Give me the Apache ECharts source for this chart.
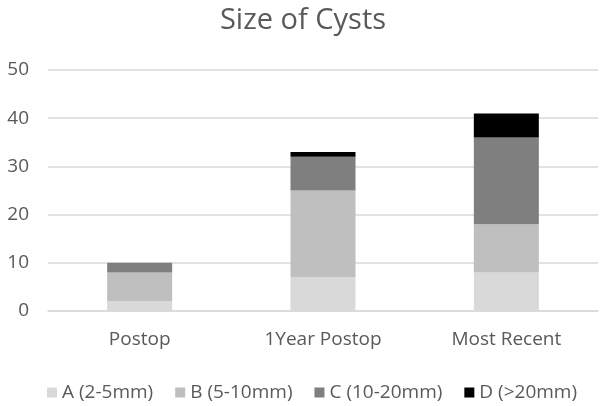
<!DOCTYPE html>
<html><head><meta charset="utf-8">
<script src="https://cdn.jsdelivr.net/npm/echarts@6/dist/echarts.min.js"></script>
<style>html,body{margin:0;padding:0;background:#fff}#c{width:606px;height:406px}</style>
</head><body><div id="c"></div>
<script>
const categories = ['Postop', '1Year Postop', 'Most Recent'];
const seriesA = [2, 7, 8];
const seriesB = [6, 18, 10];
const seriesC = [2, 7, 18];
const seriesD = [0, 1, 5];
const names = ['A (2-5mm)', 'B (5-10mm)', 'C (10-20mm)', 'D (>20mm)'];
const colors = ['#d9d9d9', '#bfbfbf', '#7f7f7f', '#000000'];
const yTicks = [0, 10, 20, 30, 40, 50];

const chart = echarts.init(document.getElementById('c'));
const data = [seriesA, seriesB, seriesC, seriesD];
chart.setOption({
  animation: false,
  title: { text: 'Size of Cysts', left: 'center', top: 1,
    textStyle: { fontFamily: 'Open Sans', fontSize: 29, fontWeight: 'normal', color: '#595959' } },
  grid: { left: 48, right: 8, top: 70, bottom: 95 },
  legend: { left: 42, top: 378, itemWidth: 10, itemHeight: 10, itemGap: 22,
    icon: 'rect',
    textStyle: { fontFamily: 'Open Sans', fontSize: 19, color: '#595959' },
    data: names },
  xAxis: { type: 'category', data: categories,
    axisLine: { lineStyle: { color: '#d9d9d9', width: 1.5 } },
    axisTick: { show: false },
    axisLabel: { fontFamily: 'Open Sans', fontSize: 19, color: '#595959', margin: 19 } },
  yAxis: { type: 'value', min: 0, max: 50, interval: 10,
    axisLine: { show: false }, axisTick: { show: false },
    splitLine: { lineStyle: { color: '#d9d9d9', width: 1.5 } },
    axisLabel: { fontFamily: 'Open Sans', fontSize: 19, color: '#595959', margin: 19,
      formatter: v => yTicks.includes(v) ? String(v) : '' } },
  series: data.map((d, i) => ({
    name: names[i], type: 'bar', stack: 'total', data: d, barWidth: 65,
    itemStyle: { color: colors[i] }
  }))
});
</script></body></html>
